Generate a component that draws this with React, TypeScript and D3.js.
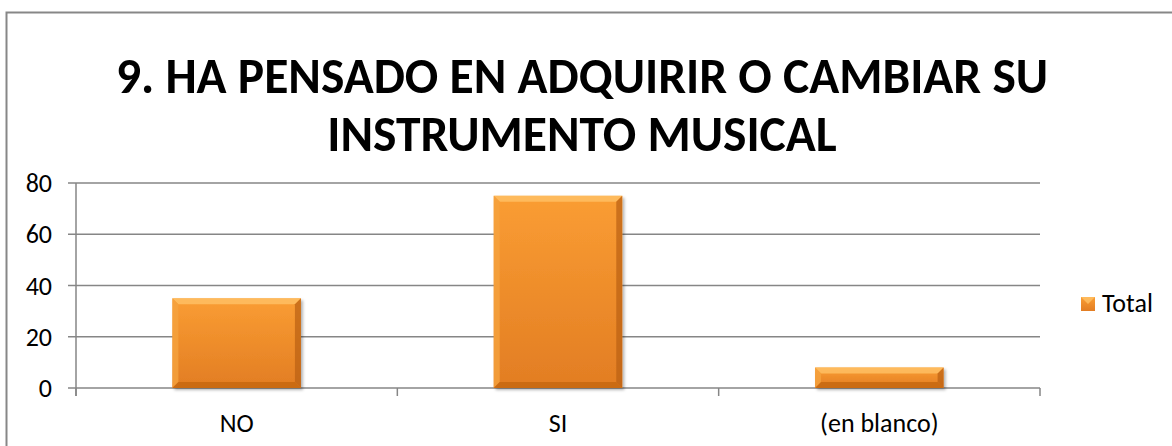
import React from "react";
import * as d3 from "d3";

const categories = ["NO", "SI", "(en blanco)"];
const values = [35, 75, 8];
const yTicks = [0, 20, 40, 60, 80];
const titleLines = ["9. HA PENSADO EN ADQUIRIR O CAMBIAR SU", "INSTRUMENTO MUSICAL"];
const seriesName = "Total";

const W = 1172, H = 446;
const plot = { left: 76, right: 1040, top: 183, bottom: 388 };
const FONT = "Carlito, Calibri, 'Open Sans', 'Noto Sans', sans-serif";

export default function App() {
  const x = d3.scaleBand<string>().domain(categories).range([plot.left, plot.right]).paddingInner(0.6).paddingOuter(0.3);
  const y = d3.scaleLinear().domain([0, 80]).range([plot.bottom, plot.top]);
  const bw = x.bandwidth();
  const edges = d3.range(categories.length + 1).map(i => plot.left + (i * (plot.right - plot.left)) / categories.length);
  const bev = 6;
  return (
    <svg width={W} height={H} style={{ position: "absolute", left: 0, top: 0, background: "#fff" }}>
      <defs>
        <linearGradient id="barg" x1="0" y1="0" x2="0" y2="1">
          <stop offset="0" stopColor="#FA9D33" />
          <stop offset="1" stopColor="#E27D23" />
        </linearGradient>
        <filter id="sh" x="-10%" y="-10%" width="130%" height="130%">
          <feDropShadow dx="2" dy="2" stdDeviation="1.5" floodColor="#000" floodOpacity="0.3" />
        </filter>
      </defs>
      <rect x={6.5} y={12.5} width={W} height={H} fill="none" stroke="#878787" strokeWidth={2} />
      {titleLines.map((t, i) => (
        <text key={i} x={582} y={93 + i * 58} textAnchor="middle" fontFamily={FONT} fontWeight="bold" fontSize={49.5} fill="#000">{t}</text>
      ))}
      {yTicks.map(t => (
        <g key={t}>
          <line x1={plot.left - 8} x2={plot.right} y1={y(t)} y2={y(t)} stroke="#868686" strokeWidth={1.5} />
          <text x={52} y={y(t) + 9} textAnchor="end" fontFamily={FONT} fontSize={26} fill="#000">{t}</text>
        </g>
      ))}
      <line x1={plot.left} x2={plot.left} y1={plot.top} y2={plot.bottom + 8} stroke="#868686" strokeWidth={1.5} />
      {edges.map((e, i) => (
        <line key={i} x1={e} x2={e} y1={plot.bottom} y2={plot.bottom + 8} stroke="#868686" strokeWidth={1.5} />
      ))}
      {categories.map((c, i) => {
        const x0 = x(c)!, x1 = x0 + bw, y0 = y(values[i]), y1 = y(0);
        return (
          <g key={c}>
            <rect x={x0} y={y0} width={bw} height={y1 - y0} fill="url(#barg)" filter="url(#sh)" />
            <polygon points={`${x0},${y0} ${x1},${y0} ${x1 - bev},${y0 + bev} ${x0 + bev},${y0 + bev}`} fill="#FFC266" opacity={0.8} />
            <polygon points={`${x0},${y0} ${x0 + bev},${y0 + bev} ${x0 + bev},${y1 - bev} ${x0},${y1}`} fill="#F5A23F" opacity={0.8} />
            <polygon points={`${x1},${y0} ${x1 - bev},${y0 + bev} ${x1 - bev},${y1 - bev} ${x1},${y1}`} fill="#B95F12" opacity={0.7} />
            <polygon points={`${x0},${y1} ${x0 + bev},${y1 - bev} ${x1 - bev},${y1 - bev} ${x1},${y1}`} fill="#C4660F" opacity={0.8} />
            <text x={x0 + bw / 2} y={432} textAnchor="middle" fontFamily={FONT} fontSize={26} fill="#000">{c}</text>
          </g>
        );
      })}
      <g>
        <rect x={1081} y={297} width={14} height={14} fill="url(#barg)" />
        <polygon points="1081,297 1095,297 1088,304" fill="#FFC266" opacity={0.8} />
        <text x={1102} y={312} fontFamily={FONT} fontSize={26} fill="#000">{seriesName}</text>
      </g>
    </svg>
  );
}
